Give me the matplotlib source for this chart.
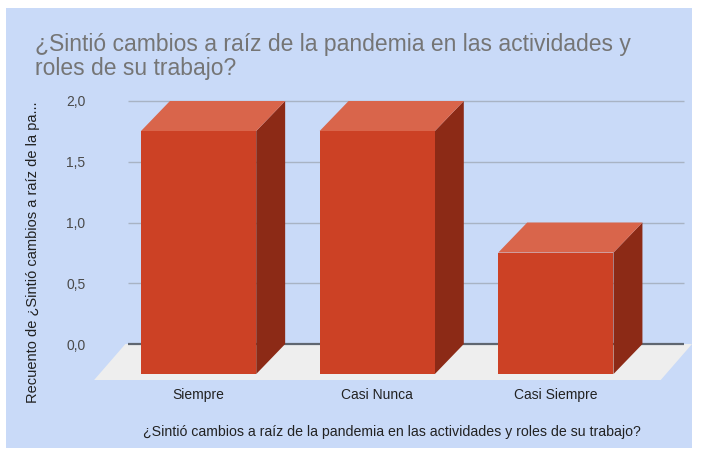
import matplotlib

matplotlib.use("Agg")
import matplotlib.pyplot as plt
from matplotlib.patches import Polygon, Rectangle

plt.rcParams["font.family"] = ["Liberation Sans", "DejaVu Sans"]

categories = ["Siempre", "Casi Nunca", "Casi Siempre"]
counts = [2, 2, 1]
y_ticks = [0.0, 0.5, 1.0, 1.5, 2.0]
y_tick_labels = ["0,0", "0,5", "1,0", "1,5", "2,0"]

title = "¿Sintió cambios a raíz de la pandemia en las actividades y\nroles de su trabajo?"
x_title = "¿Sintió cambios a raíz de la pandemia en las actividades y roles de su trabajo?"
y_title = "Recuento de ¿Sintió cambios a raíz de la pa..."

BG = "#c9daf8"
FRONT = "#cc4125"
TOP = "#d9654b"
SIDE = "#8c2a16"
FLOOR = "#eeeeee"
GRID = "#a8b3c4"
ZERO = "#5f6670"

W, H = 704, 457
fig = plt.figure(figsize=(W / 100, H / 100), dpi=100)
fig.patch.set_facecolor("white")
fig.add_artist(Rectangle((6 / W, (H - 448) / H), 686 / W, 440 / H,
                         transform=fig.transFigure, facecolor=BG, edgecolor="none", zorder=0))

# axes placed in pixel terms: x 95..692, y 101..380 (from top)
ax = fig.add_axes([95 / W, (H - 380) / H, (692 - 95) / W, (380 - 101) / H])
ax.set_facecolor("none")
ax.set_xlim(-0.58, 2.762)
ax.set_ylim(-0.296, 2.0)
for s in ax.spines.values():
    s.set_visible(False)

width = 0.645
dx, dy = 0.162, 0.247

# floor
fx0, fx1, fdx, fdy = -0.41, 2.762, 0.175, 0.296
ax.add_patch(Polygon([(fx0, 0), (fx1, 0), (fx1 - fdx, -fdy), (fx0 - fdx, -fdy)],
                     closed=True, facecolor=FLOOR, edgecolor="none", zorder=1, clip_on=False))

# gridlines on the back wall
for t in y_ticks:
    ax.plot([-0.395, 2.72], [t, t], color=ZERO if t == 0 else GRID,
            lw=1.6 if t == 0 else 1.0, zorder=2, clip_on=False, solid_capstyle="butt")

# 3d bars
for i, v in enumerate(counts):
    x0, x1 = i - width / 2, i + width / 2
    y0, y1 = -dy, v - dy
    side = [(x1, y0), (x1 + dx, y0 + dy), (x1 + dx, y1 + dy), (x1, y1)]
    top = [(x0, y1), (x1, y1), (x1 + dx, y1 + dy), (x0 + dx, y1 + dy)]
    front = [(x0, y0), (x1, y0), (x1, y1), (x0, y1)]
    for pts, col in ((side, SIDE), (top, TOP), (front, FRONT)):
        ax.add_patch(Polygon(pts, closed=True, facecolor=col, edgecolor="none",
                             zorder=3, clip_on=False))

ax.set_yticks(y_ticks)
ax.set_yticklabels(y_tick_labels, fontsize=10, color="#4a4a4a")
ax.set_xticks(range(len(categories)))
ax.set_xticklabels(categories, fontsize=10, color="#222222")
for lab in ax.get_xticklabels():
    lab.set_verticalalignment("center")
ax.tick_params(axis="y", length=0, pad=7)
ax.tick_params(axis="x", length=0, pad=11)

fig.text(35 / W, 1 - 33 / H, title, fontsize=16.5, color="#757575", ha="left", va="top",
         linespacing=1.08)
fig.text(392 / W, 1 - 432 / H, x_title, fontsize=10.2, color="#222222", ha="center", va="center")
fig.text(33 / W, 1 - 252 / H, y_title, fontsize=10.5, color="#222222", ha="center", va="center",
         rotation=90)

fig.savefig("out.png", dpi=100, facecolor=fig.get_facecolor())
